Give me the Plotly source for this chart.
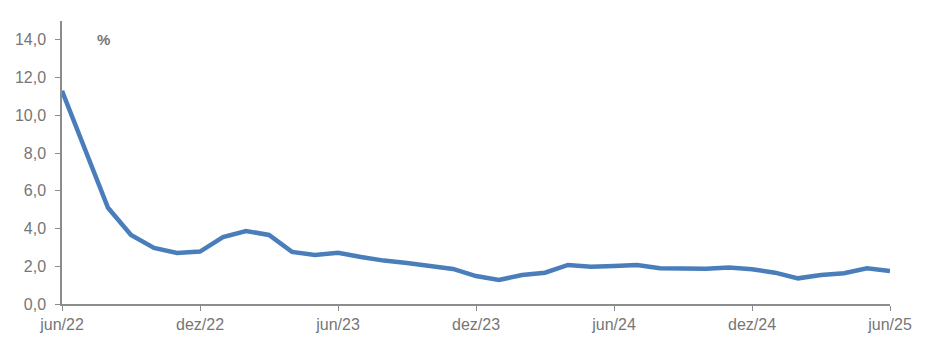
import plotly.graph_objects as go

months = ["jun/22", "jul/22", "ago/22", "set/22", "out/22", "nov/22", "dez/22",
          "jan/23", "fev/23", "mar/23", "abr/23", "mai/23", "jun/23",
          "jul/23", "ago/23", "set/23", "out/23", "nov/23", "dez/23",
          "jan/24", "fev/24", "mar/24", "abr/24", "mai/24", "jun/24",
          "jul/24", "ago/24", "set/24", "out/24", "nov/24", "dez/24",
          "jan/25", "fev/25", "mar/25", "abr/25", "mai/25", "jun/25"]
values = [11.3, 8.2, 5.1, 3.66, 2.97, 2.70, 2.78,
          3.55, 3.87, 3.66, 2.76, 2.60, 2.72,
          2.49, 2.30, 2.17, 1.99, 1.86, 1.48,
          1.27, 1.54, 1.66, 2.07, 1.98, 2.02,
          2.07, 1.90, 1.89, 1.87, 1.93, 1.84,
          1.66, 1.36, 1.54, 1.63, 1.89, 1.75]
tick_labels = ["jun/22", "dez/22", "jun/23", "dez/23", "jun/24", "dez/24", "jun/25"]

fig = go.Figure()
fig.add_trace(go.Scatter(x=list(range(len(months))), y=values, mode="lines",
                         line=dict(color="#4A7EBB", width=4.5), hoverinfo="y"))

tickpos = [months.index(t) for t in tick_labels]
axis_col = "#8C8C8C"
txt_col = "#767676"
fig.update_layout(
    width=918, height=343,
    margin=dict(l=54, r=36, t=13, b=47),
    paper_bgcolor="white", plot_bgcolor="white",
    separators=",.",
    showlegend=False,
    font=dict(family="Liberation Sans, Arial, sans-serif", size=16, color=txt_col),
    xaxis=dict(range=[0, len(months) - 1], tickvals=tickpos, ticktext=tick_labels,
               showgrid=False, zeroline=False, showline=True, linecolor=axis_col,
               linewidth=1.5, ticks="outside", ticklen=5, tickcolor=axis_col,
               automargin=False,
               tickfont=dict(size=16, color=txt_col)),
    yaxis=dict(range=[0, 15], tickvals=[0, 2, 4, 6, 8, 10, 12, 14], tickformat=".1f",
               showgrid=False, zeroline=False, showline=True, linecolor=axis_col,
               linewidth=1.5, ticks="outside", ticklen=5, tickcolor=axis_col,
               ticklabelstandoff=6, automargin=False,
               tickfont=dict(size=16, color=txt_col)),
    annotations=[dict(text="<b>%</b>", x=0.05, y=14, xref="paper", yref="y",
                      xanchor="center", yanchor="middle", showarrow=False,
                      font=dict(size=15, color=txt_col))],
)
fig.write_html("out.html")
